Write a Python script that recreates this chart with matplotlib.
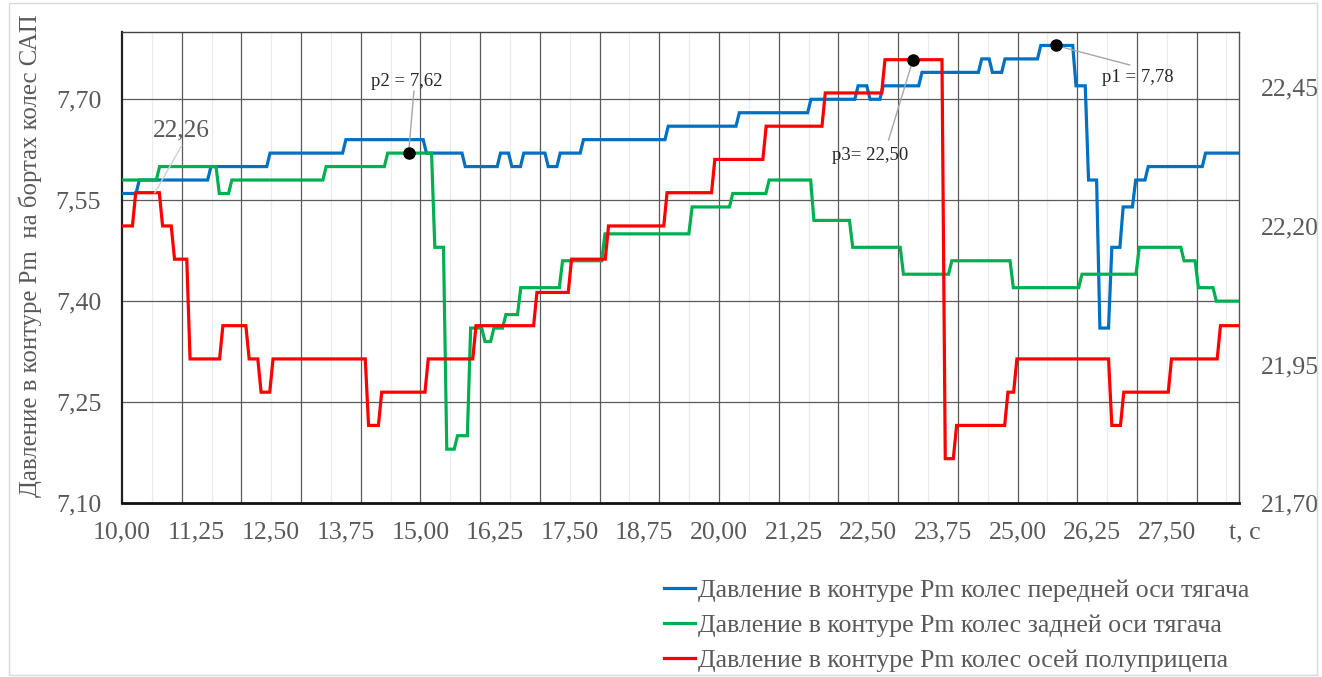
import numpy as np
import matplotlib
matplotlib.use("Agg")
import matplotlib.pyplot as plt
from matplotlib.patches import Rectangle

plt.rcParams['font.family'] = ['Liberation Serif', 'DejaVu Serif']

# Step-wise pressure records: time (s) at which each level is reached, and the level
front_t = [10.00, 10.29, 11.49, 12.48, 13.75, 15.10, 15.75, 16.34, 16.53, 16.73,
           17.14, 17.34, 17.73, 19.15, 20.34, 21.54, 22.33, 22.53, 22.75, 23.40,
           24.40, 24.58, 24.79, 25.39, 25.98, 26.19, 26.38, 26.58, 26.77, 26.98,
           27.19, 28.15]
front_p = [7.56, 7.58, 7.60, 7.62, 7.64, 7.62, 7.60, 7.62, 7.60, 7.62,
           7.60, 7.62, 7.64, 7.66, 7.68, 7.70, 7.72, 7.70, 7.72, 7.74,
           7.76, 7.74, 7.76, 7.78, 7.72, 7.58, 7.36, 7.48, 7.54, 7.58,
           7.60, 7.62]

rear_t = [10.00, 10.63, 11.63, 11.84, 13.42, 14.45, 15.24, 15.44, 15.62, 15.84,
          16.08, 16.23, 16.43, 16.68, 17.38, 18.09, 19.55, 20.23, 20.84, 21.59,
          22.24, 23.09, 23.90, 24.93, 26.08, 27.04, 27.79, 28.03, 28.33]
rear_p = [7.58, 7.60, 7.56, 7.58, 7.60, 7.62, 7.48, 7.18, 7.20, 7.36,
          7.34, 7.36, 7.38, 7.42, 7.46, 7.50, 7.54, 7.56, 7.58, 7.52,
          7.48, 7.44, 7.46, 7.42, 7.44, 7.48, 7.46, 7.42, 7.40]

trailer_t = [10.00, 10.23, 10.68, 10.88, 11.14, 11.69, 12.13, 12.33, 12.53, 14.13,
             14.35, 15.13, 15.93, 16.95, 17.53, 18.15, 19.13, 19.93, 20.79, 21.78,
             22.78, 23.79, 23.98, 24.84, 24.99, 26.58, 26.78, 27.58, 28.40]
trailer_p = [22.20, 22.26, 22.20, 22.14, 21.96, 22.02, 21.96, 21.90, 21.96, 21.84,
             21.90, 21.96, 22.02, 22.08, 22.14, 22.20, 22.26, 22.32, 22.38, 22.44,
             22.50, 21.78, 21.84, 21.90, 21.96, 21.84, 21.90, 21.96, 22.02]

t_end = 28.70

series_labels = [
    "Давление в контуре Pm колес передней оси тягача",
    "Давление в контуре Pm колес задней оси тягача",
    "Давление в контуре Pm колес осей полуприцепа",
]

left_ticks = [7.10, 7.25, 7.40, 7.55, 7.70]
right_ticks = [21.70, 21.95, 22.20, 22.45]
x_ticks = [10.00, 11.25, 12.50, 13.75, 15.00, 16.25, 17.50, 18.75, 20.00,
           21.25, 22.50, 23.75, 25.00, 26.25, 27.50]

# marked values
p1_t, p1_v = 25.64, 7.78
p2_t, p2_v = 14.80, 7.62
p3_t, p3_v = 23.25, 22.50
peak_t, peak_v = 10.55, 22.26

GRAY = '#595959'
FS = 18.6


def step_path(t, p, end, ramp=0.055):
    xs, ys = [t[0]], [p[0]]
    for i in range(1, len(t)):
        xs += [t[i] - ramp, t[i]]
        ys += [p[i - 1], p[i]]
    xs.append(end)
    ys.append(p[-1])
    return xs, ys


def fmt(v):
    return f"{v:.2f}".replace('.', ',')


fig = plt.figure(figsize=(13.22, 6.77), dpi=100)
fig.patch.set_facecolor('white')
fig.add_artist(Rectangle((0.007, 0.003), 0.989, 0.992, transform=fig.transFigure,
                         fill=False, edgecolor='#d9d9d9', linewidth=1.0))

ax = fig.add_axes([0.09228, 0.25702, 0.84493, 0.69572])
ax2 = ax.twinx()

ax.set_xlim(10.0, 28.71)
ax.set_ylim(7.10, 7.80)
ax2.set_ylim(21.70, 22.55)

# grid
for g in np.arange(10.5, 28.71, 1.0):
    ax.axvline(g, color='#ebebeb', lw=0.9, zorder=0)
for g in np.arange(11.0, 28.71, 1.0):
    ax.axvline(g, color='#5a5a5a', lw=0.9, zorder=0.5)
for g in left_ticks[1:]:
    ax.axhline(g, color='#5a5a5a', lw=0.9, zorder=0.5)

xs, ys = step_path(front_t, front_p, t_end)
l1, = ax.plot(xs, ys, color='#0070C0', lw=2.3, solid_joinstyle='miter', zorder=3,
              label=series_labels[0])
xs, ys = step_path(rear_t, rear_p, t_end)
l2, = ax.plot(xs, ys, color='#00B050', lw=2.3, solid_joinstyle='miter', zorder=3,
              label=series_labels[1])
xs, ys = step_path(trailer_t, trailer_p, t_end)
l3, = ax2.plot(xs, ys, color='#FF0000', lw=2.3, solid_joinstyle='miter', zorder=3,
               label=series_labels[2])

# axes styling
ax.set_xticks(x_ticks)
ax.set_xticklabels([fmt(v) for v in x_ticks])
ax.set_yticks(left_ticks)
ax.set_yticklabels([fmt(v) for v in left_ticks])
ax2.set_yticks(right_ticks)
ax2.set_yticklabels([fmt(v) for v in right_ticks])
ax.tick_params(axis='x', length=0, labelsize=FS, labelcolor=GRAY, pad=13)
ax.tick_params(axis='y', length=0, labelsize=FS, labelcolor=GRAY, pad=15)
ax2.tick_params(axis='y', length=0, labelsize=FS, labelcolor=GRAY, pad=16)

for s in ax2.spines.values():
    s.set_visible(False)
ax.spines['left'].set_linewidth(1.6)
ax.spines['left'].set_color('#222222')
ax.spines['bottom'].set_linewidth(2.0)
ax.spines['bottom'].set_color('#111111')
ax.spines['top'].set_linewidth(1.0)
ax.spines['top'].set_color('#444444')
ax.spines['right'].set_linewidth(1.0)
ax.spines['right'].set_color('#555555')

fig.text(30 / 1322, 1 - 256 / 677, "Давление в контуре Pm  на бортах колес САП",
         rotation=90, ha='center', va='center', fontsize=17.8, color=GRAY)
fig.text(1245 / 1322, 1 - 533 / 677, "t, c", ha='center', va='center',
         fontsize=FS, color=GRAY)

# marked points with leader lines
lead = dict(color='#a6a6a6', lw=1.0, zorder=4)
ax.plot([p2_t, 14.89], [p2_v, 7.712], **lead)
ax.plot([p1_t, 26.88], [p1_v, 7.751], **lead)
ax2.plot([p3_t, 22.84], [p3_v, 22.355], **lead)
ax2.plot([peak_t, 11.0], [peak_v, 22.345], color='#d0d0d0', lw=1.0, zorder=4)

ax.plot([p2_t, p1_t], [p2_v, p1_v], 'o', color='black', ms=8, zorder=5)
ax2.plot([p3_t], [p3_v], 'o', color='black', ms=8, zorder=5)

ax.text(14.77, 7.727, f"p2 = {fmt(p2_v)}", ha='center', va='center',
        fontsize=13.5, color='#262626', zorder=6)
ax.text(27.02, 7.732, f"p1 = {fmt(p1_v)}", ha='center', va='center',
        fontsize=13.5, color='#262626', zorder=6)
ax2.text(22.53, 22.327, f"p3= {fmt(p3_v)}", ha='center', va='center',
         fontsize=13.5, color='#262626', zorder=6)
ax2.text(11.0, 22.372, fmt(peak_v), ha='center', va='center',
         fontsize=18.2, color=GRAY, zorder=6)

leg = fig.legend([l1, l2, l3], series_labels, loc='upper left',
                 bbox_to_anchor=(664 / 1322, 1 - 579 / 677), frameon=False,
                 fontsize=FS, handlelength=1.2, handletextpad=0.1,
                 labelspacing=0.46, borderpad=0, borderaxespad=0)
for txt in leg.get_texts():
    txt.set_color(GRAY)

fig.savefig('out.png', dpi=100, facecolor='white')
